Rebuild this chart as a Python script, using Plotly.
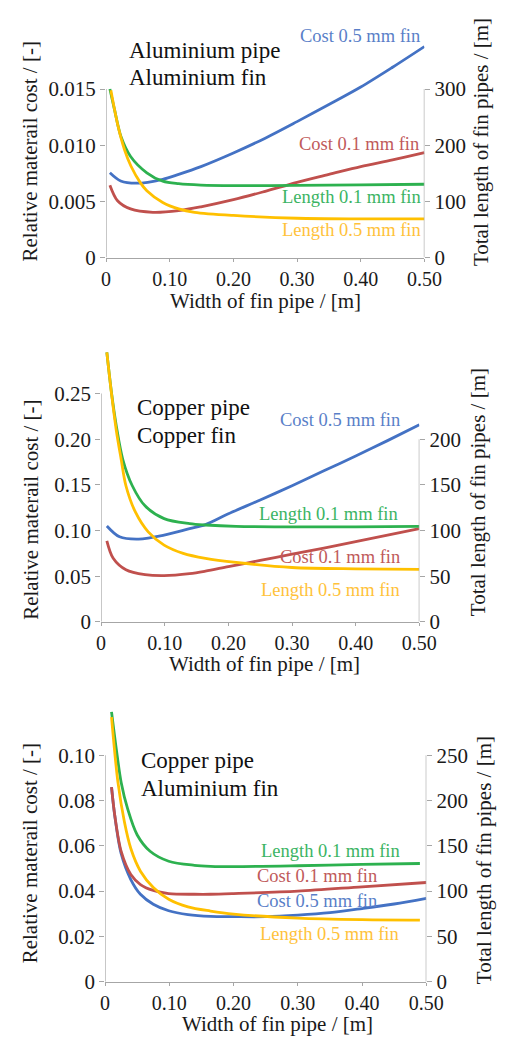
import plotly.graph_objects as go

# ---------------- data ----------------
# Panel 1: Aluminium pipe / Aluminium fin
p1_cost05_x = [0.006, 0.023, 0.048, 0.089, 0.114, 0.149, 0.2, 0.25, 0.3, 0.35, 0.4, 0.45, 0.5]
p1_cost05_y = [0.00755, 0.00682, 0.00662, 0.00697, 0.00741, 0.0081, 0.00931, 0.01063, 0.0121, 0.01362, 0.01518, 0.01694, 0.01878]
p1_cost01_x = [0.006, 0.018, 0.0385, 0.0735, 0.114, 0.149, 0.2, 0.25, 0.3, 0.35, 0.4, 0.45, 0.5]
p1_cost01_y = [0.00644, 0.00506, 0.00433, 0.00403, 0.00418, 0.00452, 0.00515, 0.0059, 0.0067, 0.0074, 0.0081, 0.0087, 0.00935]
p1_len01_x = [0.006, 0.0135, 0.0235, 0.0385, 0.064, 0.089, 0.114, 0.149, 0.2, 0.3, 0.4, 0.5]
p1_len01_y = [300, 262, 215, 180, 151, 136, 131.5, 129, 128, 128.5, 129.5, 130.5]
p1_len05_x = [0.0075, 0.019, 0.029, 0.039, 0.054, 0.064, 0.089, 0.114, 0.139, 0.2, 0.3, 0.4, 0.5]
p1_len05_y = [298, 233, 192, 163, 133, 119, 98, 86.6, 80.6, 75, 70, 69, 69]

# Panel 2: Copper pipe / Copper fin
p2_cost05_x = [0.009, 0.029, 0.059, 0.099, 0.139, 0.164, 0.2, 0.25, 0.3, 0.35, 0.4, 0.45, 0.5]
p2_cost05_y = [0.105, 0.0931, 0.0906, 0.0949, 0.102, 0.1064, 0.1183, 0.1334, 0.149, 0.1653, 0.1815, 0.1984, 0.2157]
p2_cost01_x = [0.009, 0.019, 0.039, 0.069, 0.099, 0.139, 0.164, 0.2, 0.25, 0.3, 0.35, 0.4, 0.45, 0.5]
p2_cost01_y = [0.0887, 0.0696, 0.057, 0.0516, 0.0505, 0.0527, 0.0555, 0.0605, 0.0672, 0.074, 0.0808, 0.0878, 0.0948, 0.102]
p2_len01_x = [0.009, 0.0165, 0.024, 0.034, 0.049, 0.069, 0.099, 0.139, 0.164, 0.212, 0.3, 0.4, 0.5]
p2_len01_y = [295, 250, 214, 178, 149, 127, 113, 107.5, 106, 104.5, 104, 104, 104.5]
p2_len05_x = [0.009, 0.0165, 0.024, 0.0315, 0.039, 0.054, 0.074, 0.099, 0.129, 0.164, 0.212, 0.3, 0.4, 0.5]
p2_len05_y = [295, 249, 209, 178, 149, 120, 98.5, 84, 75, 69.5, 65, 59.5, 58, 57.5]

# Panel 3: Copper pipe / Aluminium fin
p3_cost05_x = [0.010, 0.015, 0.025, 0.040, 0.055, 0.075, 0.099, 0.129, 0.164, 0.2, 0.25, 0.3, 0.35, 0.4, 0.45, 0.5]
p3_cost05_y = [0.0859, 0.0733, 0.0565, 0.0451, 0.0386, 0.0342, 0.0313, 0.0296, 0.0288, 0.0287, 0.0287, 0.0294, 0.0305, 0.0323, 0.0343, 0.0368]
p3_cost01_x = [0.010, 0.015, 0.025, 0.040, 0.055, 0.075, 0.099, 0.139, 0.164, 0.2, 0.3, 0.4, 0.5]
p3_cost01_y = [0.0859, 0.0735, 0.0575, 0.0473, 0.0429, 0.0403, 0.0389, 0.0386, 0.0386, 0.0389, 0.040, 0.0419, 0.0438]
p3_len01_x = [0.010, 0.0175, 0.025, 0.035, 0.050, 0.070, 0.099, 0.139, 0.164, 0.2, 0.3, 0.4, 0.49]
p3_len01_y = [298, 256.5, 220, 191, 162, 144, 133, 128.5, 127.4, 127, 128, 129.5, 130.5]
p3_len05_x = [0.010, 0.020, 0.030, 0.040, 0.055, 0.075, 0.099, 0.129, 0.164, 0.2, 0.3, 0.4, 0.49]
p3_len05_y = [292, 220, 176.5, 147, 122, 104, 91, 82.6, 78, 74.6, 70.2, 68.5, 68]

x_ticks = [0, 0.1, 0.2, 0.3, 0.4, 0.5]
x_ticktext = ["0", "0.10", "0.20", "0.30", "0.40", "0.50"]

p1_left_ticks = [0, 0.005, 0.010, 0.015]
p1_left_text = ["0", "0.005", "0.010", "0.015"]
p1_right_ticks = [0, 100, 200, 300]
p2_left_ticks = [0, 0.05, 0.10, 0.15, 0.20, 0.25]
p2_left_text = ["0", "0.05", "0.10", "0.15", "0.20", "0.25"]
p2_right_ticks = [0, 50, 100, 150, 200]
p3_left_ticks = [0, 0.02, 0.04, 0.06, 0.08, 0.10]
p3_left_text = ["0", "0.02", "0.04", "0.06", "0.08", "0.10"]
p3_right_ticks = [0, 50, 100, 150, 200, 250]

panel_titles = [("Aluminium pipe", "Aluminium fin"), ("Copper pipe", "Copper fin"), ("Copper pipe", "Aluminium fin")]
series_names = ["Cost 0.5 mm fin", "Cost 0.1 mm fin", "Length 0.1 mm fin", "Length 0.5 mm fin"]
x_title = "Width of fin pipe / [m]"
y_left_title = "Relative materail cost / [-]"
y_right_title = "Total length of fin pipes / [m]"

# ---------------- styling ----------------
W, H = 506, 1040
FONT = "Liberation Serif"
C_BLUE, C_RED, C_GREEN, C_YEL = "#4472C4", "#C0504D", "#2DB14F", "#FFC000"
T_BLUE, T_RED, T_GREEN, T_YEL = "#5A7FC8", "#BF5A5A", "#3BB463", "#FFC23A"
AX = "#A6A6A6"
TXT = "#1a1a1a"

def px_x(p):
    return p / W

def px_y(p):
    return 1 - p / H

panels = [
    dict(xl=97.5, xr=431.0, y0=252.5, ytick=82.0, ytop=30.0, ltop=0.015, rtop=300,
         lt=p1_left_ticks, ltt=p1_left_text, rt=p1_right_ticks,
         data=[(p1_cost05_x, p1_cost05_y, C_BLUE, "L"), (p1_cost01_x, p1_cost01_y, C_RED, "L"),
               (p1_len01_x, p1_len01_y, C_GREEN, "R"), (p1_len05_x, p1_len05_y, C_YEL, "R")],
         labels=[(series_names[0], T_BLUE, 428, 28.5), (series_names[1], T_RED, 427, 137.7),
                 (series_names[2], T_GREEN, 430, 191.7), (series_names[3], T_YEL, 430, 225)],
         title_xy=(119, 42.7, 70.0), xt=(265, 296), ylt=(18, 145), yrt=(491, 136)),
    dict(xl=92.3, xr=425.7, y0=621.0, ytick=390.0, ytop=340.0, ltop=0.25, rtop=250,
         lt=p2_left_ticks, ltt=p2_left_text, rt=p2_right_ticks, rline=200,
         data=[(p2_cost05_x, p2_cost05_y, C_BLUE, "L"), (p2_cost01_x, p2_cost01_y, C_RED, "L"),
               (p2_len01_x, p2_len01_y, C_GREEN, "R"), (p2_len05_x, p2_len05_y, C_YEL, "R")],
         labels=[(series_names[0], T_BLUE, 408, 416.7), (series_names[2], T_GREEN, 405, 511.7),
                 (series_names[1], T_RED, 408, 555.7), (series_names[3], T_YEL, 408, 588.3)],
         title_xy=(127.7, 404, 432.3), xt=(263, 664), ylt=(18, 507.5), yrt=(488, 490)),
    dict(xl=96.5, xr=433.0, y0=985.0, ytick=756.0, ytop=705.0, ltop=0.10, rtop=250,
         lt=p3_left_ticks, ltt=p3_left_text, rt=p3_right_ticks,
         data=[(p3_cost05_x, p3_cost05_y, C_BLUE, "L"), (p3_cost01_x, p3_cost01_y, C_RED, "L"),
               (p3_len01_x, p3_len01_y, C_GREEN, "R"), (p3_len05_x, p3_len05_y, C_YEL, "R")],
         labels=[(series_names[2], T_GREEN, 407, 853.3), (series_names[1], T_RED, 383, 878.3),
                 (series_names[0], T_BLUE, 383, 903.3), (series_names[3], T_YEL, 406, 937.3)],
         title_xy=(131.7, 761.7, 789.3), xt=(276.7, 1027.5), ylt=(18, 855), yrt=(493, 862.5)),
]

fig = go.Figure()
layout = dict(width=W, height=H, margin=dict(l=0, r=0, t=0, b=0),
              paper_bgcolor="white", plot_bgcolor="white", showlegend=False,
              font=dict(family=FONT, color=TXT, size=21))
shapes = []
annotations = []

for i, p in enumerate(panels):
    n = i + 1
    xa = "x" if n == 1 else f"x{n}"
    yl_id = 2 * i + 1
    yr_id = 2 * i + 2
    yl = "y" if yl_id == 1 else f"y{yl_id}"
    yr = f"y{yr_id}"
    scale = (p["y0"] - p["ytop"]) / (p["y0"] - p["ytick"])
    lmax = p["ltop"] * scale
    rmax = p["rtop"] * scale
    dom_x = [px_x(p["xl"]), px_x(p["xr"])]
    dom_y = [px_y(p["y0"]), px_y(p["ytop"])]

    layout["xaxis" if n == 1 else f"xaxis{n}"] = dict(
        domain=dom_x, anchor=yl, range=[0, 0.5], tickvals=x_ticks, ticktext=x_ticktext,
        showline=True, linecolor=AX, linewidth=1.2, ticks="outside", ticklen=3, tickcolor=AX,
        showgrid=False, zeroline=False, tickfont=dict(family=FONT, size=20, color=TXT))
    layout["yaxis" if yl_id == 1 else f"yaxis{yl_id}"] = dict(
        domain=dom_y, anchor=xa, range=[0, lmax], tickvals=p["lt"], ticktext=p["ltt"],
        showline=False, ticks="outside", ticklen=5, tickcolor=AX, showgrid=False, zeroline=False,
        tickfont=dict(family=FONT, size=21, color=TXT))
    layout[f"yaxis{yr_id}"] = dict(
        domain=dom_y, anchor=xa, overlaying=yl, side="right", range=[0, rmax],
        tickvals=p["rt"], showline=False, ticks="outside", ticklen=5, tickcolor=AX,
        showgrid=False, zeroline=False, tickfont=dict(family=FONT, size=21, color=TXT))

    shapes.append(dict(type="line", xref=xa, yref=yl, x0=0, x1=0, y0=0, y1=p["ltop"],
                       line=dict(color=AX, width=1.2)))
    shapes.append(dict(type="line", xref=xa, yref=yr, x0=0.5, x1=0.5, y0=0, y1=p.get("rline", p["rtop"]),
                       line=dict(color=AX, width=1.2)))

    for (xs, ys, col, side) in p["data"]:
        fig.add_trace(go.Scatter(x=xs, y=ys, mode="lines", xaxis=xa, yaxis=(yl if side == "L" else yr),
                                 line=dict(color=col, width=2.8, shape="spline", smoothing=0.9),
                                 hoverinfo="skip"))

    for (txt, col, xr_px, yc_px) in p["labels"]:
        annotations.append(dict(text=txt, xref="paper", yref="paper", x=px_x(xr_px), y=px_y(yc_px),
                                xanchor="right", yanchor="middle", showarrow=False,
                                font=dict(family=FONT, size=18.5, color=col)))

    tx, ty1, ty2 = p["title_xy"]
    for t, ty in zip(panel_titles[i], (ty1, ty2)):
        annotations.append(dict(text=t, xref="paper", yref="paper", x=px_x(tx), y=px_y(ty),
                                xanchor="left", yanchor="middle", showarrow=False,
                                font=dict(family=FONT, size=23, color="#111111")))

    annotations.append(dict(text=x_title, xref="paper", yref="paper", x=px_x(p["xt"][0]), y=px_y(p["xt"][1]),
                            xanchor="center", yanchor="middle", showarrow=False,
                            font=dict(family=FONT, size=21, color=TXT)))
    annotations.append(dict(text=y_left_title, xref="paper", yref="paper", x=px_x(p["ylt"][0]), y=px_y(p["ylt"][1]),
                            xanchor="center", yanchor="middle", textangle=-90, showarrow=False,
                            font=dict(family=FONT, size=21, color=TXT)))
    annotations.append(dict(text=y_right_title, xref="paper", yref="paper", x=px_x(p["yrt"][0]), y=px_y(p["yrt"][1]),
                            xanchor="center", yanchor="middle", textangle=-90, showarrow=False,
                            font=dict(family=FONT, size=21, color=TXT)))

layout["shapes"] = shapes
layout["annotations"] = annotations
fig.update_layout(**layout)
fig.write_html("out.html")
